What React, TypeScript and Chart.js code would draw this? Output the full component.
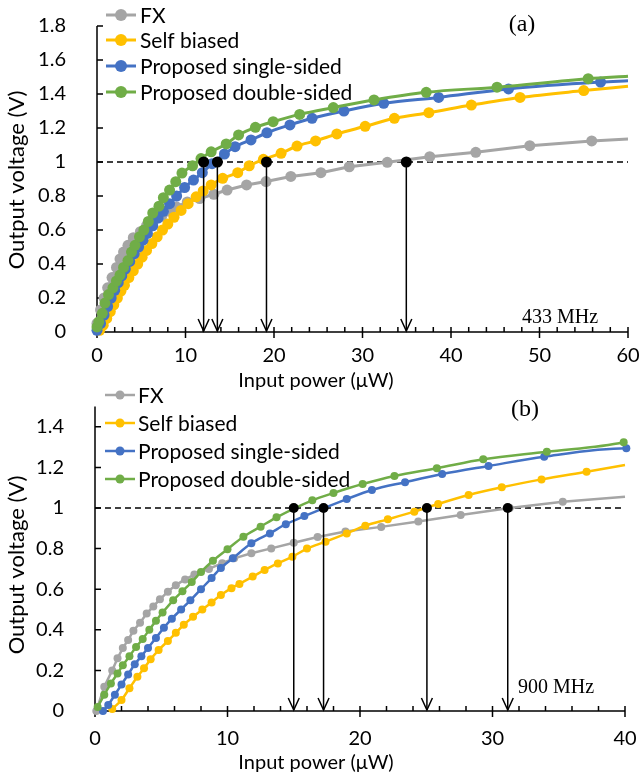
import { useEffect, useRef } from "react";
import { Chart, registerables } from "chart.js";
Chart.register(...registerables);

const COLORS = ["#A5A5A5", "#FFC000", "#4472C4", "#70AD47"];
const NAMES = ["FX", "Self biased", "Proposed single-sided", "Proposed double-sided"];

// ---------- Panel (a): 433 MHz ----------
const aFxX = [0, 0.4, 0.8, 1.2, 1.7, 2.2, 2.6, 3.0, 3.5, 4.1, 4.9, 5.6, 6.4, 7.3, 8.2, 9.0, 10.2, 11.6, 13.2, 14.7, 16.9, 19.1, 21.9, 25.3, 28.5, 32.8, 37.6, 42.8, 48.9, 55.9];
const aFxY = [0.05, 0.13, 0.2, 0.26, 0.32, 0.38, 0.43, 0.47, 0.51, 0.555, 0.59, 0.625, 0.655, 0.68, 0.71, 0.735, 0.765, 0.785, 0.81, 0.835, 0.865, 0.885, 0.915, 0.937, 0.972, 0.998, 1.031, 1.057, 1.096, 1.124];
const aSelfX = [0.3, 0.7, 1.1, 1.5, 1.9, 2.3, 2.7, 3.1, 3.6, 4.1, 4.6, 5.1, 5.6, 6.2, 6.8, 7.4, 8.0, 8.7, 9.5, 10.3, 11.2, 12.0, 12.9, 14.2, 15.9, 17.2, 18.8, 20.8, 22.6, 24.7, 27.1, 30.3, 33.6, 37.5, 42.3, 47.8, 55.0];
const aSelfY = [0.01, 0.04, 0.08, 0.12, 0.16, 0.2, 0.24, 0.275, 0.32, 0.36, 0.4, 0.44, 0.48, 0.52, 0.56, 0.6, 0.635, 0.675, 0.715, 0.755, 0.795, 0.83, 0.865, 0.904, 0.937, 0.978, 1.016, 1.051, 1.094, 1.124, 1.165, 1.21, 1.257, 1.29, 1.335, 1.38, 1.42];
const aSingleX = [0, 0.4, 0.8, 1.2, 1.6, 2.0, 2.4, 2.8, 3.2, 3.7, 4.2, 4.7, 5.2, 5.7, 6.3, 6.9, 7.5, 8.2, 9.0, 9.9, 10.9, 11.9, 13.0, 14.4, 15.6, 17.4, 19.2, 21.8, 24.3, 27.9, 32.4, 38.6, 46.5, 56.9];
const aSingleY = [0.01, 0.05, 0.1, 0.15, 0.2, 0.245, 0.29, 0.33, 0.37, 0.415, 0.46, 0.5, 0.54, 0.58, 0.625, 0.67, 0.71, 0.755, 0.8, 0.85, 0.894, 0.937, 0.99, 1.047, 1.09, 1.13, 1.172, 1.218, 1.257, 1.3, 1.345, 1.38, 1.43, 1.47];
const aDoubleX = [0, 0.2, 0.6, 0.9, 1.3, 1.8, 2.2, 2.6, 3.0, 3.5, 3.9, 4.3, 4.8, 5.3, 5.8, 6.3, 7.0, 7.5, 8.2, 8.9, 9.6, 10.8, 11.75, 12.9, 14.6, 16.0, 17.9, 19.9, 22.9, 26.7, 31.3, 37.2, 45.2, 55.5];
const aDoubleY = [0.03, 0.06, 0.11, 0.17, 0.22, 0.26, 0.3, 0.335, 0.38, 0.42, 0.47, 0.51, 0.56, 0.6, 0.65, 0.7, 0.74, 0.79, 0.835, 0.884, 0.935, 0.978, 1.02, 1.06, 1.106, 1.159, 1.204, 1.237, 1.28, 1.32, 1.365, 1.41, 1.44, 1.49];
const aCurveEnd = [1.135, 1.445, 1.478, 1.505]; // trend curves at x = 60
const aCrossX = [34.95, 19.15, 13.6, 12.05]; // where each reaches 1 V

// ---------- Panel (b): 900 MHz ----------
const bFxX = [0.1, 0.7, 1.3, 1.7, 2.1, 2.5, 2.9, 3.4, 3.9, 4.4, 4.9, 5.5, 6.1, 6.8, 7.5, 8.6, 9.6, 10.5, 11.8, 13.3, 15.0, 16.8, 18.9, 21.6, 24.4, 27.6, 31.3, 35.3];
const bFxY = [0.0, 0.12, 0.2, 0.26, 0.31, 0.35, 0.395, 0.435, 0.48, 0.515, 0.55, 0.588, 0.62, 0.648, 0.672, 0.7, 0.728, 0.752, 0.777, 0.801, 0.829, 0.857, 0.884, 0.907, 0.933, 0.966, 1.0, 1.031];
const bSelfX = [1.3, 2.0, 2.6, 3.2, 3.7, 4.2, 4.8, 5.5, 6.1, 6.7, 7.4, 8.1, 8.8, 9.5, 10.3, 10.9, 11.9, 12.8, 13.8, 14.9, 16.0, 17.4, 19.0, 20.4, 22.1, 24.1, 25.9, 28.2, 30.7, 33.7, 37.1];
const bSelfY = [0.01, 0.054, 0.112, 0.169, 0.21, 0.255, 0.3, 0.345, 0.385, 0.425, 0.464, 0.5, 0.535, 0.571, 0.605, 0.626, 0.662, 0.695, 0.727, 0.76, 0.8, 0.834, 0.875, 0.913, 0.944, 0.982, 1.02, 1.064, 1.102, 1.141, 1.179];
const bSingleX = [0.6, 1.0, 1.5, 2.0, 2.5, 3.0, 3.5, 4.0, 4.6, 5.2, 5.8, 6.5, 7.2, 8.0, 8.8, 9.5, 10.4, 11.8, 13.2, 14.4, 15.8, 19.0, 20.9, 23.4, 26.2, 29.7, 33.9, 40.1];
const bSingleY = [0.0, 0.03, 0.08, 0.13, 0.18, 0.23, 0.27, 0.31, 0.36, 0.41, 0.455, 0.5, 0.545, 0.6, 0.655, 0.705, 0.752, 0.826, 0.875, 0.92, 0.96, 1.044, 1.089, 1.127, 1.167, 1.207, 1.253, 1.294];
const bDoubleX = [0.2, 0.7, 1.2, 1.7, 2.1, 2.6, 3.1, 3.6, 4.1, 4.6, 5.1, 5.9, 6.6, 7.3, 8.0, 8.9, 10.0, 11.2, 12.5, 13.7, 16.4, 18.0, 20.2, 22.6, 25.8, 29.3, 34.1, 39.9];
const bDoubleY = [0.02, 0.08, 0.135, 0.185, 0.225, 0.27, 0.315, 0.355, 0.4, 0.445, 0.485, 0.545, 0.59, 0.635, 0.685, 0.74, 0.797, 0.858, 0.908, 0.954, 1.038, 1.074, 1.118, 1.158, 1.196, 1.24, 1.277, 1.324];
const bCurveEnd = [1.056, 1.212, 1.296, 1.326]; // trend curves at x = 40
const bCrossX = [31.15, 25.05, 17.25, 15.0];

const X_TITLE = "Input power (μW)";
const Y_TITLE = "Output voltage (V)";

type Cfg = {
  top: number;
  height: number;
  area: { left: number; top: number; right: number; bottom: number };
  xMax: number;
  yMax: number;
  xs: number[][];
  ys: number[][];
  ends: number[];
  cross: number[];
  tag: string;
  freq: string;
  markerR: number;
  lineW: number;
  dotR: number;
  xPad: number;
  yPad: number;
  legendRows: number[];
  legendR: number;
  legendLine: [number, number];
  legendText: number;
  tagPos: [number, number];
  freqPos: [number, number];
  xTitleY: number;
  yTitleY: number;
};

const panelA: Cfg = {
  top: 0,
  height: 396,
  area: { left: 97, top: 26, right: 628, bottom: 332 },
  xMax: 60,
  yMax: 1.8,
  xs: [aFxX, aSelfX, aSingleX, aDoubleX],
  ys: [aFxY, aSelfY, aSingleY, aDoubleY],
  ends: aCurveEnd,
  cross: aCrossX,
  tag: "(a)",
  freq: "433 MHz",
  markerR: 5.5,
  lineW: 3,
  dotR: 5.5,
  xPad: 4,
  yPad: 23,
  legendRows: [15, 40, 66, 92],
  legendR: 6,
  legendLine: [106, 136],
  legendText: 140,
  tagPos: [522, 25],
  freqPos: [522, 318],
  xTitleY: 381,
  yTitleY: 180,
};

const panelB: Cfg = {
  top: 388,
  height: 393,
  area: { left: 95, top: 18.5, right: 625, bottom: 323 },
  xMax: 40,
  yMax: 1.5,
  xs: [bFxX, bSelfX, bSingleX, bDoubleX],
  ys: [bFxY, bSelfY, bSingleY, bDoubleY],
  ends: bCurveEnd,
  cross: bCrossX,
  tag: "(b)",
  freq: "900 MHz",
  markerR: 4,
  lineW: 2.5,
  dotR: 5,
  xPad: 8,
  yPad: 23,
  legendRows: [7, 35, 63, 91],
  legendR: 4.5,
  legendLine: [105, 135],
  legendText: 138,
  tagPos: [525, 22],
  freqPos: [518, 300],
  xTitleY: 375,
  yTitleY: 177,
};

const SANS = "Lato";
const SERIF = "'Liberation Serif'";

function fmtTick(v: number) {
  return String(Math.round(v * 10) / 10);
}

function PanelChart({ cfg }: { cfg: Cfg }) {
  const ref = useRef<HTMLCanvasElement | null>(null);
  useEffect(() => {
    const canvas = ref.current;
    if (!canvas) return;
    const { area, height } = cfg;
    const datasets: any[] = [];
    datasets.push({
      data: [{ x: 0, y: 1 }, { x: cfg.xMax, y: 1 }],
      showLine: true,
      borderColor: "#000",
      borderWidth: 1.3,
      borderDash: [6, 4],
      pointRadius: 0,
      order: 20,
      clip: false,
    });
    for (let i = 0; i < 4; i++) {
      const pts = cfg.xs[i].map((x, k) => ({ x, y: cfg.ys[i][k] }));
      const curve = [...pts, { x: cfg.xMax, y: cfg.ends[i] }];
      datasets.push({
        data: curve,
        showLine: true,
        borderColor: COLORS[i],
        borderWidth: cfg.lineW,
        pointRadius: 0,
        tension: i === 0 ? 0 : 0.4,
        cubicInterpolationMode: i === 0 ? "default" : "monotone",
        order: 19 - 2 * i,
        clip: false,
      });
      datasets.push({
        data: pts,
        showLine: false,
        pointRadius: cfg.markerR,
        pointBackgroundColor: COLORS[i],
        pointBorderColor: COLORS[i],
        pointBorderWidth: 0,
        order: 18 - 2 * i,
        clip: false,
      });
    }
    datasets.push({
      data: cfg.cross.map((x) => ({ x, y: 1 })),
      showLine: false,
      pointRadius: cfg.dotR,
      pointBackgroundColor: "#000",
      pointBorderColor: "#000",
      pointBorderWidth: 0,
      order: 0,
      clip: false,
    });

    const decor = {
      id: "decor",
      beforeDatasetsDraw(chart: any) {
        const ctx = chart.ctx;
        const xs = chart.scales.x;
        const ys = chart.scales.y;
        const x0 = xs.getPixelForValue(0);
        const x1 = xs.getPixelForValue(cfg.xMax);
        const y0 = ys.getPixelForValue(0);
        const y1 = ys.getPixelForValue(cfg.yMax);
        ctx.save();
        ctx.strokeStyle = "#000";
        ctx.lineWidth = 1.5;
        ctx.beginPath();
        ctx.moveTo(x0, y1);
        ctx.lineTo(x0, y0);
        ctx.lineTo(x1, y0);
        ctx.stroke();
        ctx.beginPath();
        for (let v = 0; v <= cfg.xMax + 1e-6; v += 2) {
          const px = xs.getPixelForValue(v);
          const major = Math.abs(v % 10) < 1e-6;
          ctx.moveTo(px, y0 - 5);
          ctx.lineTo(px, major ? y0 + 6 : y0);
        }
        for (const t of ys.ticks) {
          const py = ys.getPixelForValue(t.value);
          ctx.moveTo(x0, py);
          ctx.lineTo(x0 + 6, py);
        }
        ctx.stroke();
        ctx.restore();
      },
      afterDatasetsDraw(chart: any) {
        const ctx = chart.ctx;
        const xs = chart.scales.x;
        const ys = chart.scales.y;
        const y0 = ys.getPixelForValue(0);
        const yOne = ys.getPixelForValue(1);
        ctx.save();
        ctx.strokeStyle = "#000";
        ctx.lineWidth = 1.5;
        for (const cx of cfg.cross) {
          const px = xs.getPixelForValue(cx);
          ctx.beginPath();
          ctx.moveTo(px, yOne);
          ctx.lineTo(px, y0 - 1);
          ctx.stroke();
          ctx.beginPath();
          ctx.moveTo(px - 5.5, y0 - 13);
          ctx.lineTo(px, y0 - 1);
          ctx.lineTo(px + 5.5, y0 - 13);
          ctx.stroke();
        }
        ctx.restore();
      },
      afterDraw(chart: any) {
        const ctx = chart.ctx;
        ctx.save();
        // legend
        ctx.font = `21px ${SANS}`;
        ctx.textBaseline = "middle";
        ctx.textAlign = "left";
        for (let i = 0; i < 4; i++) {
          const y = cfg.legendRows[i];
          const [l0, l1] = cfg.legendLine;
          ctx.strokeStyle = COLORS[i];
          ctx.lineWidth = cfg.lineW;
          ctx.beginPath();
          ctx.moveTo(l0, y);
          ctx.lineTo(l1, y);
          ctx.stroke();
          ctx.fillStyle = COLORS[i];
          ctx.beginPath();
          ctx.arc((l0 + l1) / 2, y, cfg.legendR, 0, Math.PI * 2);
          ctx.fill();
          ctx.fillStyle = "#000";
          ctx.fillText(NAMES[i], cfg.legendText, y + 1);
        }
        // tags
        ctx.fillStyle = "#000";
        ctx.font = `24px ${SERIF}`;
        ctx.textAlign = "center";
        ctx.fillText(cfg.tag, cfg.tagPos[0], cfg.tagPos[1]);
        ctx.font = `20px ${SERIF}`;
        ctx.textAlign = "left";
        ctx.fillText(cfg.freq, cfg.freqPos[0], cfg.freqPos[1]);
        // axis titles
        ctx.font = `20px ${SANS}`;
        ctx.textAlign = "center";
        ctx.fillText(X_TITLE, 316, cfg.xTitleY);
        ctx.font = `22px ${SANS}`;
        ctx.translate(17, cfg.yTitleY);
        ctx.rotate(-Math.PI / 2);
        ctx.fillText(Y_TITLE, 0, 0);
        ctx.restore();
      },
    };

    const chart = new Chart(canvas, {
      type: "scatter",
      data: { datasets },
      options: {
        animation: false,
        responsive: false,
        maintainAspectRatio: false,
        devicePixelRatio: 1,
        events: [],
        layout: { padding: { left: 0, right: 642 - area.right, top: area.top, bottom: 0 } },
        plugins: { legend: { display: false }, tooltip: { enabled: false } },
        scales: {
          x: {
            type: "linear",
            min: 0,
            max: cfg.xMax,
            afterFit: (s: any) => {
              s.height = height - area.bottom;
              s.paddingLeft = 0;
              s.paddingRight = 0;
            },
            ticks: {
              stepSize: 10,
              color: "#000",
              font: { family: SANS, size: 20 },
              padding: cfg.xPad,
              maxRotation: 0,
              autoSkip: false,
              callback: (v: any) => fmtTick(Number(v)),
            },
            grid: { display: false },
            border: { display: false },
          },
          y: {
            type: "linear",
            min: 0,
            max: cfg.yMax,
            afterFit: (s: any) => {
              s.width = area.left;
              s.paddingTop = 0;
              s.paddingBottom = 0;
            },
            ticks: {
              stepSize: 0.2,
              includeBounds: false,
              color: "#000",
              font: { family: SANS, size: 20 },
              padding: cfg.yPad,
              autoSkip: false,
              callback: (v: any) => fmtTick(Number(v)),
            },
            grid: { display: false },
            border: { display: false },
          },
        },
      } as any,
      plugins: [decor],
    });
    return () => chart.destroy();
  }, [cfg]);
  return (
    <canvas
      ref={ref}
      width={642}
      height={cfg.height}
      style={{ display: "block", position: "absolute", left: 0, top: cfg.top }}
    />
  );
}

export default function App() {
  return (
    <div style={{ position: "absolute", left: 0, top: 0, width: 642, height: 781, background: "#fff" }}>
      <PanelChart cfg={panelA} />
      <PanelChart cfg={panelB} />
    </div>
  );
}
